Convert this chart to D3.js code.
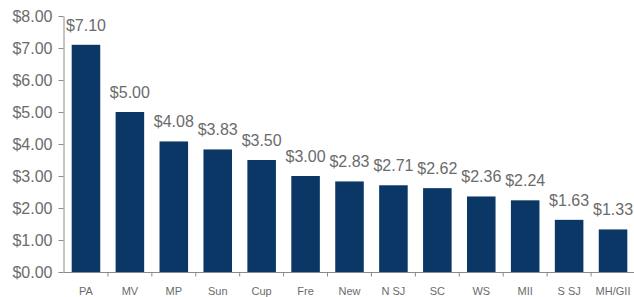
<!DOCTYPE html>
<html><head><meta charset="utf-8">
<script src="https://cdn.jsdelivr.net/npm/d3@7"></script>
<style>body{margin:0;background:#fff}svg{display:block}</style>
</head><body>
<svg id="c" width="634" height="297"></svg>
<script>
const categories = ["PA","MV","MP","Sun","Cup","Fre","New","N SJ","SC","WS","MII","S SJ","MH/GII"];
const values = [7.10,5.00,4.08,3.83,3.50,3.00,2.83,2.71,2.62,2.36,2.24,1.63,1.33];
const yTicks = [0,1,2,3,4,5,6,7,8];

const svg = d3.select("#c");
const x = d3.scaleBand().domain(categories).range([64,635]).paddingInner(0.35).paddingOuter(0.175);
const y = d3.scaleLinear().domain([0,8]).range([272,16]);
const fmt = d => "$" + d3.format(".2f")(d);
const gray = "#8a8a8a", txt = "#6b6b6b";
const font = "Liberation Sans, Arial, sans-serif";

svg.selectAll("rect.bar").data(values).join("rect")
  .attr("x",(d,i)=>x(categories[i])).attr("width",x.bandwidth())
  .attr("y",d=>y(d)).attr("height",d=>y(0)-y(d)).attr("fill","#0b3766");

const ya = svg.append("g").attr("transform","translate(63.5,0)")
  .call(d3.axisLeft(y).tickValues(yTicks).tickFormat(fmt).tickSize(5).tickSizeOuter(0));
ya.select(".domain").attr("stroke",gray);
ya.selectAll(".tick line").attr("stroke",gray);
ya.selectAll(".tick text").attr("fill",txt).attr("font-family",font).attr("font-size","16px").attr("x",-11);

// x axis with ticks at band boundaries
const xa = svg.append("g").attr("transform","translate(0,272.5)");
xa.append("line").attr("x1",63.5).attr("x2",634).attr("stroke",gray);
const step = x.step();
xa.selectAll("line.t").data(d3.range(categories.length)).join("line")
  .attr("x1",i=>x(categories[i])+x.bandwidth()+ (step-x.bandwidth())/2)
  .attr("x2",i=>x(categories[i])+x.bandwidth()+ (step-x.bandwidth())/2)
  .attr("y1",0).attr("y2",4).attr("stroke",gray);
xa.selectAll("text").data(categories).join("text")
  .attr("x",d=>x(d)+x.bandwidth()/2).attr("y",22)
  .attr("text-anchor","middle").attr("fill",txt)
  .attr("font-family",font).attr("font-size","11px").text(d=>d);

svg.selectAll("text.val").data(values).join("text").attr("class","val")
  .attr("x",(d,i)=>x(categories[i])+x.bandwidth()/2)
  .attr("y",d=>y(d)-14)
  .attr("text-anchor","middle").attr("fill",txt)
  .attr("font-family",font).attr("font-size","16px")
  .text(fmt);
</script>
</body></html>
